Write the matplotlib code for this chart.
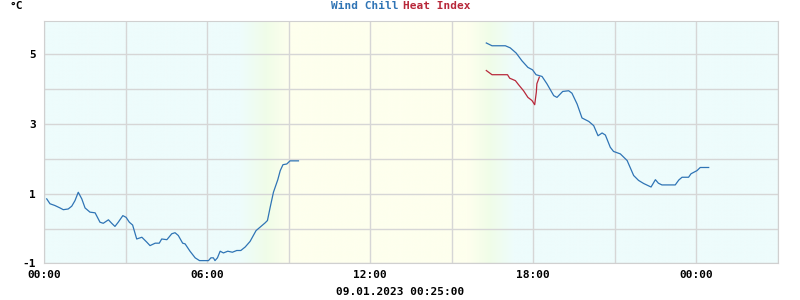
import matplotlib
matplotlib.use("Agg")
import matplotlib.pyplot as plt
import numpy as np

# wind chill, first stretch (hours since 00:00, degC)
wc1_t = [0.10, 0.22, 0.40, 0.59, 0.71, 0.89, 1.02, 1.14, 1.26, 1.39, 1.51, 1.69, 1.88,
         2.06, 2.18, 2.37, 2.49, 2.61, 2.73, 2.90, 3.02, 3.14, 3.26, 3.41, 3.60, 3.78,
         3.90, 4.09, 4.24, 4.33, 4.52, 4.70, 4.82, 4.94, 5.10, 5.19, 5.37, 5.56, 5.72,
         6.05, 6.14, 6.23, 6.29, 6.38, 6.48, 6.60, 6.76, 6.93, 7.09, 7.24, 7.40, 7.58,
         7.80, 7.95, 8.13, 8.22, 8.32, 8.44, 8.60, 8.69, 8.79, 8.93, 9.05, 9.36]
wc1_v = [0.85, 0.71, 0.66, 0.59, 0.54, 0.56, 0.64, 0.80, 1.04, 0.85, 0.59, 0.47, 0.45,
         0.18, 0.15, 0.25, 0.15, 0.06, 0.18, 0.37, 0.32, 0.18, 0.10, -0.30, -0.25, -0.39,
         -0.49, -0.42, -0.42, -0.30, -0.32, -0.15, -0.12, -0.20, -0.42, -0.44, -0.65, -0.84, -0.92,
         -0.92, -0.84, -0.84, -0.92, -0.84, -0.65, -0.70, -0.65, -0.68, -0.63, -0.63, -0.53, -0.37,
         -0.06, 0.04, 0.16, 0.23, 0.61, 1.04, 1.40, 1.66, 1.83, 1.85, 1.94, 1.94]

# wind chill, second stretch
wc2_t = [16.27, 16.48, 16.97, 17.15, 17.37, 17.58, 17.80, 17.97, 18.10, 18.32, 18.50,
         18.75, 18.87, 19.08, 19.30, 19.42, 19.61, 19.79, 20.04, 20.22, 20.38, 20.53,
         20.65, 20.83, 20.95, 21.20, 21.45, 21.69, 21.87, 22.06, 22.33, 22.49, 22.60,
         22.73, 23.22, 23.35, 23.47, 23.71, 23.80, 24.02, 24.14, 24.45]
wc2_v = [5.32, 5.24, 5.24, 5.18, 5.03, 4.81, 4.62, 4.55, 4.41, 4.36, 4.15,
         3.81, 3.76, 3.93, 3.95, 3.88, 3.57, 3.17, 3.07, 2.95, 2.66, 2.74,
         2.68, 2.33, 2.21, 2.14, 1.95, 1.52, 1.38, 1.29, 1.19, 1.40, 1.30,
         1.25, 1.25, 1.39, 1.47, 1.47, 1.57, 1.66, 1.75, 1.75]

# heat index
hi_t = [16.27, 16.48, 17.05, 17.13, 17.34, 17.46, 17.64, 17.80, 17.95, 18.05, 18.11, 18.13, 18.22]
hi_v = [4.53, 4.41, 4.41, 4.31, 4.24, 4.12, 3.95, 3.76, 3.67, 3.55, 3.91, 4.15, 4.34]

x_ticks = [0, 6, 12, 18, 24]
x_labels = ["00:00", "06:00", "12:00", "18:00", "00:00"]
y_labels = [-1, 1, 3, 5]
stamp = "09.01.2023 00:25:00"

blue = "#2f74b5"
red = "#b8283a"
mono = "DejaVu Sans Mono"

fig = plt.figure(figsize=(8, 3), dpi=100)
ax = fig.add_axes([0.055, 0.122, 0.9175, 0.808])
ax.set_xlim(0, 27)
ax.set_ylim(-1, 5.95)

# night / day background with soft transitions
night = np.array([238, 252, 252]) / 255
dawn = np.array([240, 253, 232]) / 255
day = np.array([254, 255, 238]) / 255
xs = np.linspace(0, 27, 800)
stops = [0, 7.2, 8.2, 9.05, 15.6, 16.4, 17.3, 27]
cols = [night, night, dawn, day, day, dawn, night, night]
img = np.zeros((1, len(xs), 3))
for c in range(3):
    img[0, :, c] = np.interp(xs, stops, [col[c] for col in cols])
ax.imshow(img, extent=[0, 27, -1, 5.95], aspect="auto", zorder=0, interpolation="bilinear")

ax.set_xticks(np.arange(0, 28, 3), minor=False)
ax.set_yticks(np.arange(-1, 6, 1))
ax.grid(True, color="#d6d6d6", linewidth=1.0, zorder=1)
ax.set_xticklabels(["" for _ in np.arange(0, 28, 3)])
ax.set_yticklabels([str(v) if v in y_labels else "" for v in range(-1, 6)])
for t, lab in zip(x_ticks, x_labels):
    ax.text(t, -1.18, lab, ha="center", va="top", fontsize=8, fontweight="bold",
            family=mono)
ax.tick_params(length=0, labelsize=8, pad=6)
for lab in ax.get_yticklabels():
    lab.set_fontweight("bold")
    lab.set_family(mono)
for s in ax.spines.values():
    s.set_color("#d0d0d0")

ax.plot(wc1_t, wc1_v, color=blue, linewidth=0.9, zorder=3)
ax.plot(wc2_t, wc2_v, color=blue, linewidth=0.9, zorder=3)
ax.plot(hi_t, hi_v, color=red, linewidth=0.9, zorder=4)

fig.text(0.456, 0.98, "Wind Chill", color=blue, ha="center", va="center",
         fontsize=8, fontweight="bold", family=mono)
fig.text(0.546, 0.98, "Heat Index", color=red, ha="center", va="center",
         fontsize=8, fontweight="bold", family=mono)
fig.text(0.012, 0.98, "°C", ha="left", va="center", fontsize=8, fontweight="bold", family=mono)
fig.text(0.5, 0.027, stamp, ha="center", va="center", fontsize=8, fontweight="bold", family=mono)

fig.savefig("out.png", dpi=100)
